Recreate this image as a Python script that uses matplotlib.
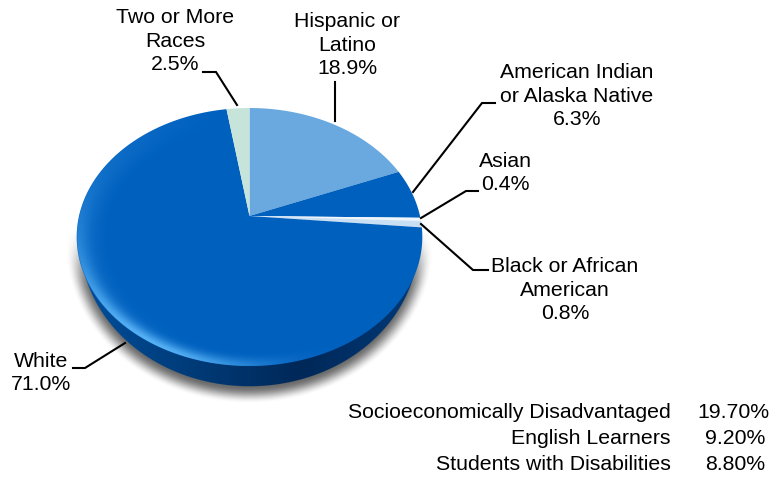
import numpy as np
import matplotlib
matplotlib.use('Agg')
import matplotlib.pyplot as plt
from matplotlib.patches import Polygon

plt.rcParams['font.family'] = ['Liberation Sans', 'DejaVu Sans']

# Enrollment share by group, clockwise from 12 o'clock
groups = ['Hispanic or\nLatino', 'American Indian\nor Alaska Native', 'Asian',
          'Black or African\nAmerican', 'White', 'Two or More\nRaces']
shares = [18.9, 6.3, 0.4, 0.8, 71.0, 2.5]
slice_colors = ['#6aa9e0', '#0060be', '#eef5fb', '#c9dff3', '#0060be', '#c6e4da']

sub_groups = ['Socioeconomically Disadvantaged', 'English Learners', 'Students with Disabilities']
sub_shares = ['19.70%', '9.20%', '8.80%']

W, H = 784, 478
# pie geometry in pixels: apex sits above the middle of the tilted disc
APEX_X, APEX_Y = 249.5, 216.0
SCALE_X, SCALE_Y, TILT = 170.5, 125.6, 0.163
FACE_CY, FACE_RX, FACE_RY = 237.0, 172.5, 129.0
WALL_CY, WALL_RX, WALL_RY = 241.0, 170.0, 146.0


def project(theta):
    # theta runs clockwise from the top of the disc
    u, v = np.sin(theta), np.cos(theta)
    w = 1 + TILT * v
    return APEX_X + SCALE_X * u / w, APEX_Y - SCALE_Y * v / w


def smooth(edge0, edge1, x):
    t = np.clip((x - edge0) / (edge1 - edge0), 0, 1)
    return t * t * (3 - 2 * t)


def rgba(color, alpha):
    img = np.zeros((H, W, 4))
    img[..., :3] = np.asarray(color) / 255.0
    img[..., 3] = alpha
    return img


fig = plt.figure(figsize=(W / 100, H / 100), dpi=100)
ax = fig.add_axes([0, 0, 1, 1])
ax.set_xlim(0, W)
ax.set_ylim(H, 0)
ax.axis('off')

yy, xx = np.mgrid[0:H, 0:W] + 0.5
extent = (0, W, H, 0)


def show(img, z):
    ax.imshow(img, extent=extent, interpolation='nearest', zorder=z, aspect='auto')


# soft drop shadow under the disc, only below its widest part
r_shadow = np.hypot((xx - 249.5) / 179.0, (yy - 245.0) / 154.0)
shadow_alpha = 0.8 * (1 - smooth(0.92, 1.03, r_shadow)) * smooth(225, 290, yy)
show(rgba([70, 70, 70], shadow_alpha), 1)

# side wall, darker towards the bottom right
r_wall = np.hypot((xx - APEX_X) / WALL_RX, (yy - WALL_CY) / WALL_RY)
t = np.clip((xx - 80) / 340.0, 0, 1)
stops = [0, 0.35, 0.65, 1.0]
wall_rgb = np.zeros((H, W, 3))
wall_rgb[..., 1] = np.interp(t, stops, [78, 58, 40, 58])
wall_rgb[..., 2] = np.interp(t, stops, [155, 118, 88, 120])
show(rgba(wall_rgb, smooth(1.0, 0.99, r_wall) * (yy > FACE_CY)), 2)

# slices of the top face
fractions = np.array(shares) / np.sum(shares)
edges = np.concatenate([[0], np.cumsum(fractions)]) * 2 * np.pi
for start, end, color in zip(edges[:-1], edges[1:], slice_colors):
    theta = np.linspace(start, end, max(int((end - start) * 120), 4))
    x, y = project(theta)
    pts = np.column_stack([np.r_[APEX_X, x], np.r_[APEX_Y, y]])
    ax.add_patch(Polygon(pts, closed=True, facecolor=color, edgecolor='none', zorder=3))

# rim highlight on the top face, strongest at the lower left
r_face = np.hypot((xx - APEX_X) / FACE_RX, (yy - FACE_CY) / FACE_RY)
phi = np.arctan2(yy - FACE_CY, xx - APEX_X)
lower_left = np.clip(np.cos(phi - np.deg2rad(130)), 0, 1) ** 3
left_glow = np.clip(-np.cos(phi), 0, 1) ** 2
glow = 0.85 * smooth(0.86, 1.0, r_face) ** 2 * lower_left + 0.18 * smooth(0.80, 1.0, r_face) * left_glow
glow *= smooth(1.005, 0.995, r_face)
show(rgba([95, 185, 250], glow), 4)

# leader lines
leaders = [
    ([203, 216, 237], [72, 72, 105]),
    ([335.5, 335.5], [82, 121]),
    ([413, 482, 495], [192, 103, 103]),
    ([421, 466, 478], [218, 191, 191]),
    ([421, 473, 488], [224, 270, 270]),
    ([125, 85, 73], [343, 368, 368]),
]
for lx, ly in leaders:
    ax.plot(lx, ly, color='black', lw=1.5, zorder=5, solid_joinstyle='miter')

FONT = 15.3
label_spots = [(347, 45), (577, 96), (505, 173), (565, 290), (41, 373), (175, 41)]
for name, val, (tx, ty) in zip(groups, shares, label_spots):
    ax.text(tx, ty, f'{name}\n{val:.1f}%', ha='center', va='center',
            fontsize=FONT, linespacing=1.33, color='black', zorder=6)

for name, val, ty in zip(sub_groups, sub_shares, [412, 439, 465]):
    ax.text(671, ty, name, ha='right', va='center', fontsize=FONT, color='black', zorder=6)
    ax.text(770 if val == '19.70%' else 765, ty, val, ha='right', va='center',
            fontsize=FONT, color='black', zorder=6)

fig.savefig('out.png', dpi=100)
